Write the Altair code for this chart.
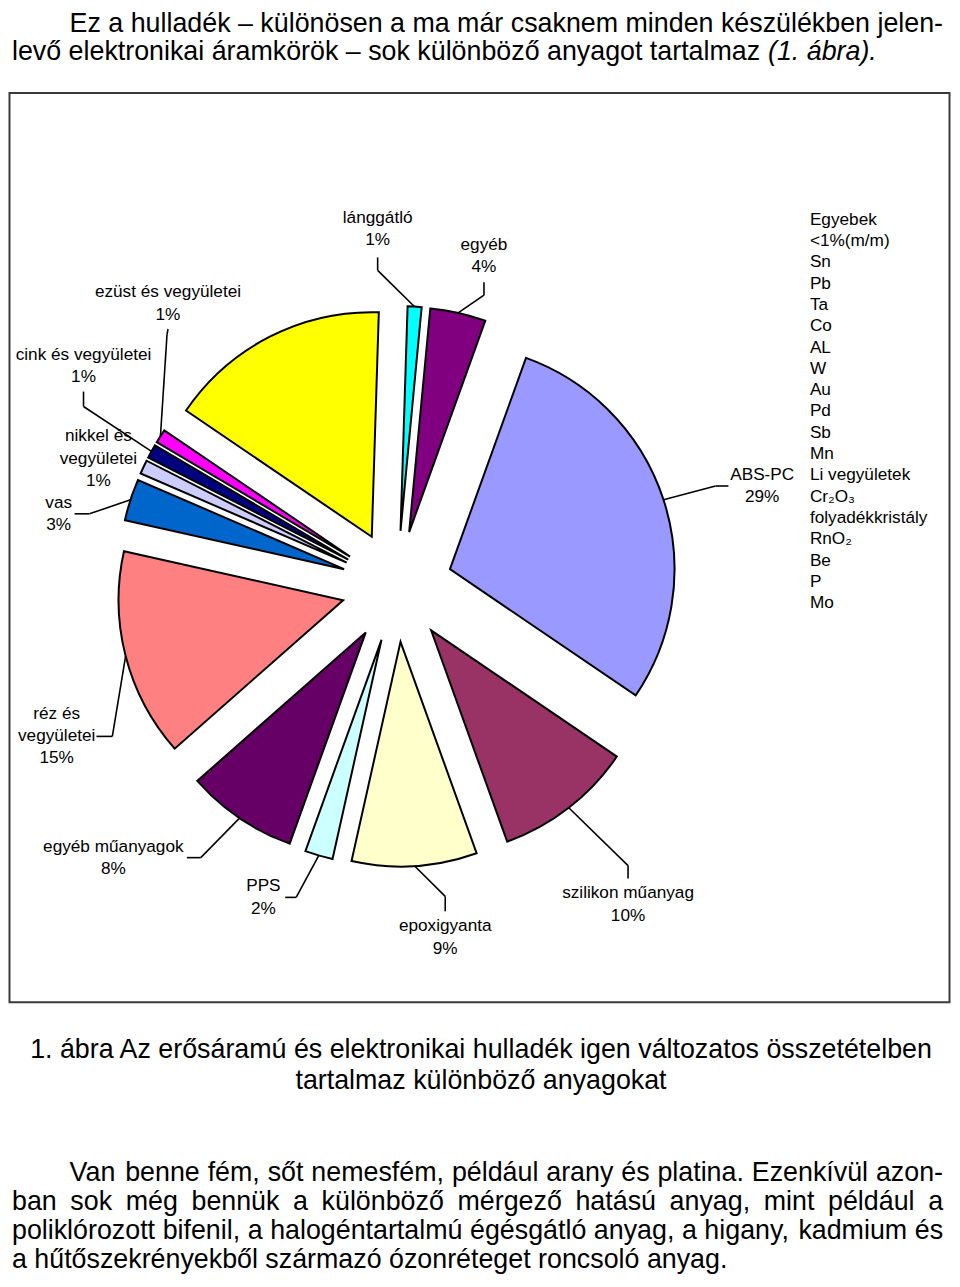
import math
import pandas as pd
import altair as alt

# ---------------- data ----------------
categories = ["lánggátló", "egyéb", "ABS-PC", "szilikon műanyag", "epoxigyanta", "PPS",
              "egyéb műanyagok", "réz és vegyületei", "vas", "nikkel és vegyületei",
              "cink és vegyületei", "ezüst és vegyületei", "Egyebek"]
values = [1, 4, 29, 10, 9, 2, 8, 15, 3, 1, 1, 1, 16]
label_texts = ["lánggátló\n1%", "egyéb\n4%", "ABS-PC\n29%", "szilikon műanyag\n10%",
               "epoxigyanta\n9%", "PPS\n2%", "egyéb műanyagok\n8%", "réz és\nvegyületei\n15%",
               "vas\n3%", "nikkel és\nvegyületei\n1%", "cink és vegyületei\n1%",
               "ezüst és vegyületei\n1%", None]
other_items = ["Egyebek", "<1%(m/m)", "Sn", "Pb", "Ta", "Co", "AL", "W", "Au", "Pd", "Sb",
               "Mn", "Li vegyületek", "Cr₂O₃", "folyadékkristály", "RnO₂", "Be", "P", "Mo"]

top_line1 = "Ez a hulladék – különösen a ma már csaknem minden készülékben jelen-"
top_line2 = "levő elektronikai áramkörök – sok különböző anyagot tartalmaz"
top_line2_italic = "(1. ábra)."
caption_lines = ["1. ábra Az erősáramú és elektronikai hulladék igen változatos összetételben",
                 "tartalmaz különböző anyagokat"]
para_lines = ["Van benne fém, sőt nemesfém, például arany és platina. Ezenkívül azon-",
              "ban sok még bennük a különböző mérgező hatású anyag, mint például a",
              "poliklórozott bifenil, a halogéntartalmú égésgátló anyag, a higany, kadmium és",
              "a hűtőszekrényekből származó ózonréteget roncsoló anyag."]

# ---------------- styles / layout ----------------
colors = ["#00FFFF", "#800080", "#9999FF", "#993366", "#FFFFCC", "#CCFFFF", "#660066",
          "#FF8080", "#0066CC", "#CCCCFF", "#000080", "#FF00FF", "#FFFF00"]
OFF = 8  # page margin
CX, CY = 399.5 - OFF, 586 - OFF
EXPLODE, R = 56, 226
START = math.radians(1.8)

# label first-line centres (page coords)
label_x = [380, 487, 767, 632, 448, 265, 114, 57, 59, 99, 84, 169, None]
label_y = [215, 242, 474, 895, 928, 888, 848, 714, 502, 435, 353, 290, None]
# leader lines: start near label, elbow
lead_sx = [380, 487, 733, 632, 448, 287, 188, 97, 75, None, 84, 169, None]
lead_sy = [255, 280, 485, 880, 913, 899, 859, 737, 513, None, 390, 327, None]
lead_ex = [380, 487, 720, 632, 448, 298, 202, 113, 90, None, 84, 168, None]
lead_ey = [268, 293, 485, 867, 898, 899, 859, 737, 513, None, 405, 333, None]


def sh(v):
    return None if v is None else v - OFF


df = pd.DataFrame({
    "cat": categories, "val": values, "order": list(range(len(values))),
    "label": label_texts,
    "lx": [sh(v) for v in label_x], "ly": [sh(v) for v in label_y],
    "sx": [sh(v) for v in lead_sx], "sy": [sh(v) for v in lead_sy],
    "ex": [sh(v) for v in lead_ex], "ey": [sh(v) for v in lead_ey],
})

base = alt.Chart(df).transform_window(
    c1="sum(val)", sort=[alt.SortField("order")], frame=[None, 0]
).transform_calculate(
    c0="datum.c1 - datum.val",
    am=f"{START} + (datum.c1 - datum.val / 2) / 100 * 2 * PI",
).transform_calculate(
    px=f"{CX} + {EXPLODE} * sin(datum.am)",
    py=f"{CY} - {EXPLODE} * cos(datum.am)",
    tx=f"{CX} + {EXPLODE + R} * sin(datum.am)",
    ty=f"{CY} - {EXPLODE + R} * cos(datum.am)",
)

pie = base.mark_arc(radius=R, stroke="black", strokeWidth=2).encode(
    theta=alt.Theta("c0:Q", stack=None,
                    scale=alt.Scale(domain=[0, 100], range=[START, START + 2 * math.pi])),
    theta2="c1:Q",
    x=alt.X("px:Q", scale=None),
    y=alt.Y("py:Q", scale=None),
    color=alt.Color("cat:N", scale=alt.Scale(domain=categories, range=colors), legend=None),
    order=alt.Order("order:Q"),
)

lead1 = base.transform_filter("isValid(datum.sx)").mark_rule(color="black", strokeWidth=1.6).encode(
    x=alt.X("sx:Q", scale=None), y=alt.Y("sy:Q", scale=None),
    x2="ex:Q", y2="ey:Q",
)
lead2 = base.transform_filter("isValid(datum.sx)").mark_rule(color="black", strokeWidth=1.6).encode(
    x=alt.X("ex:Q", scale=None), y=alt.Y("ey:Q", scale=None),
    x2="tx:Q", y2="ty:Q",
)

labels = base.transform_filter("isValid(datum.label)").mark_text(
    font="Liberation Sans", fontSize=17.3, align="center", baseline="middle",
    lineBreak="\n", lineHeight=22.5, color="black"
).encode(
    x=alt.X("lx:Q", scale=None), y=alt.Y("ly:Q", scale=None), text="label:N"
)

others = alt.Chart(pd.DataFrame({"t": ["\n".join(other_items)]})).mark_text(
    font="Liberation Sans", fontSize=17.3, align="left", baseline="middle",
    lineBreak="\n", lineHeight=21.45, color="black"
).encode(
    x=alt.value(815 - OFF), y=alt.value(217 - OFF), text="t:N"
)

frame = alt.Chart(pd.DataFrame({"a": [0]})).mark_rect(
    fillOpacity=0, stroke="#3a3a3a", strokeWidth=2
).encode(
    x=alt.value(1.5), x2=alt.value(955.5 - OFF), y=alt.value(89.5 - OFF), y2=alt.value(1004.5 - OFF)
)

# ---------------- body text (Arial metrics for justification) ----------------
FS = 27
W = {' ': 278, 'a': 556, 'b': 556, 'c': 500, 'd': 556, 'e': 556, 'f': 278, 'g': 556, 'h': 556,
     'i': 222, 'j': 222, 'k': 500, 'l': 222, 'm': 833, 'n': 556, 'o': 556, 'p': 556, 'q': 556,
     'r': 333, 's': 500, 't': 278, 'u': 556, 'v': 500, 'w': 722, 'x': 500, 'y': 500, 'z': 500,
     'á': 556, 'é': 556, 'í': 278, 'ó': 556, 'ö': 556, 'ő': 556, 'ú': 556, 'ü': 556, 'ű': 556,
     'A': 667, 'E': 667, 'V': 667, ',': 278, '.': 278, '-': 333, '–': 556, '(': 333, ')': 333}


def tw(s):
    return sum(W.get(ch, 556) for ch in s) * FS / 1000


def justify(line, x0, x1, y):
    words = line.split(" ")
    gap = (x1 - x0 - sum(tw(w) for w in words)) / (len(words) - 1)
    out, x = [], x0
    for w in words:
        out.append({"t": w, "x": x - OFF, "y": y - OFF})
        x += tw(w) + gap
    return out


rows = []
rows += justify(top_line1, 70, 949, 20)
rows.append({"t": top_line2, "x": 12 - OFF, "y": 48 - OFF})
rows += justify(para_lines[0], 70, 949, 1176)
rows += justify(para_lines[1], 12, 949, 1206)
rows += justify(para_lines[2], 12, 949, 1235)
rows.append({"t": para_lines[3], "x": 12 - OFF, "y": 1264 - OFF})
body_df = pd.DataFrame(rows)
cap_df = pd.DataFrame({"t": caption_lines, "x": [484 - OFF] * 2, "y": [1053 - OFF, 1084 - OFF]})
ital_df = pd.DataFrame({"t": [top_line2_italic], "x": [12 + tw(top_line2 + " ") - OFF], "y": [48 - OFF]})

body = alt.Chart(body_df).mark_text(
    font="Liberation Sans", fontSize=FS, align="left", baseline="middle", color="black"
).encode(x=alt.X("x:Q", scale=None), y=alt.Y("y:Q", scale=None), text="t:N")
caption = alt.Chart(cap_df).mark_text(
    font="Liberation Sans", fontSize=FS, align="center", baseline="middle", color="black"
).encode(x=alt.X("x:Q", scale=None), y=alt.Y("y:Q", scale=None), text="t:N")
italic = alt.Chart(ital_df).mark_text(
    font="Liberation Sans", fontSize=FS, fontStyle="italic", align="left", baseline="middle", color="black"
).encode(x=alt.X("x:Q", scale=None), y=alt.Y("y:Q", scale=None), text="t:N")

chart = alt.layer(frame, pie, lead1, lead2, labels, others, body, caption, italic).properties(
    width=950, height=1271, padding=0, autosize="none"
).configure_view(stroke=None)

chart.save("out.html", embed_options={"renderer": "svg", "actions": False})
